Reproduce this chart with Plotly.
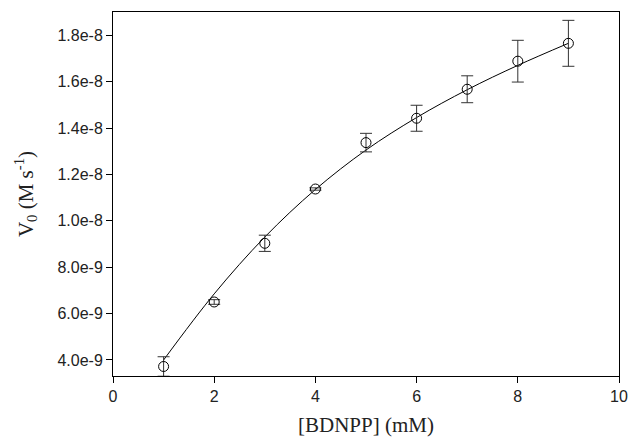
import plotly.graph_objects as go

# Data (values in M s^-1)
substrate_mM = [1, 2, 3, 4, 5, 6, 7, 8, 9]
v0 = [3.72e-9, 6.50e-9, 9.03e-9, 11.37e-9, 13.37e-9, 14.42e-9, 15.67e-9, 16.88e-9, 17.65e-9]
v0_err = [0.42e-9, 0.10e-9, 0.35e-9, 0.05e-9, 0.40e-9, 0.56e-9, 0.58e-9, 0.90e-9, 0.99e-9]

# Fitted curve
fit_x = [1, 2, 3, 4, 5, 6, 7, 8, 9]
fit_y = [4.00e-9, 6.85e-9, 9.30e-9, 11.35e-9, 13.05e-9, 14.45e-9, 15.65e-9, 16.70e-9, 17.65e-9]

x_ticks = [0, 2, 4, 6, 8, 10]
y_ticks = [4e-9, 6e-9, 8e-9, 1.0e-8, 1.2e-8, 1.4e-8, 1.6e-8, 1.8e-8]
y_ticktext = ["4.0e-9", "6.0e-9", "8.0e-9", "1.0e-8", "1.2e-8", "1.4e-8", "1.6e-8", "1.8e-8"]

fig = go.Figure()

fig.add_trace(go.Scatter(
    x=fit_x, y=fit_y, mode="lines",
    line=dict(color="black", width=1, shape="spline", smoothing=1.0),
    hoverinfo="skip", showlegend=False,
))

fig.add_trace(go.Scatter(
    x=substrate_mM, y=v0, mode="markers",
    marker=dict(symbol="circle-open", size=10, color="black", line=dict(width=1, color="black")),
    error_y=dict(type="data", array=v0_err, visible=True, color="#333333", thickness=1, width=6),
    showlegend=False,
))

serif = "Liberation Serif, Times New Roman, serif"

fig.update_layout(
    width=631, height=437,
    margin=dict(l=113, r=12, t=12, b=61),
    paper_bgcolor="white", plot_bgcolor="white",
    font=dict(family="Liberation Sans, Arial, sans-serif", size=16, color="#222222"),
)

fig.update_xaxes(
    range=[0, 10], tickvals=x_ticks, ticks="outside", ticklen=6, tickwidth=1, tickcolor="black",
    showline=True, linecolor="black", linewidth=1, mirror=True, showgrid=False, zeroline=False,
    tickfont=dict(size=16), automargin=False,
    title=dict(text="[BDNPP] (mM)", font=dict(family=serif, size=21, color="#222222"), standoff=13),
)
fig.update_yaxes(
    range=[3.31e-9, 1.9e-8], tickvals=y_ticks, ticktext=y_ticktext, ticks="outside", ticklen=6, tickwidth=1,
    tickcolor="black", automargin=False,
    showline=True, linecolor="black", linewidth=1, mirror=True, showgrid=False, zeroline=False,
    tickfont=dict(size=16),
    title=dict(text="V<sub>0</sub> (M s<sup>-1</sup>)", font=dict(family=serif, size=21, color="#222222"), standoff=18),
)

fig.write_html(
    "out.html",
    config={"displayModeBar": False},
    post_script="document.body.style.margin='0';document.body.style.overflow='hidden';",
)
